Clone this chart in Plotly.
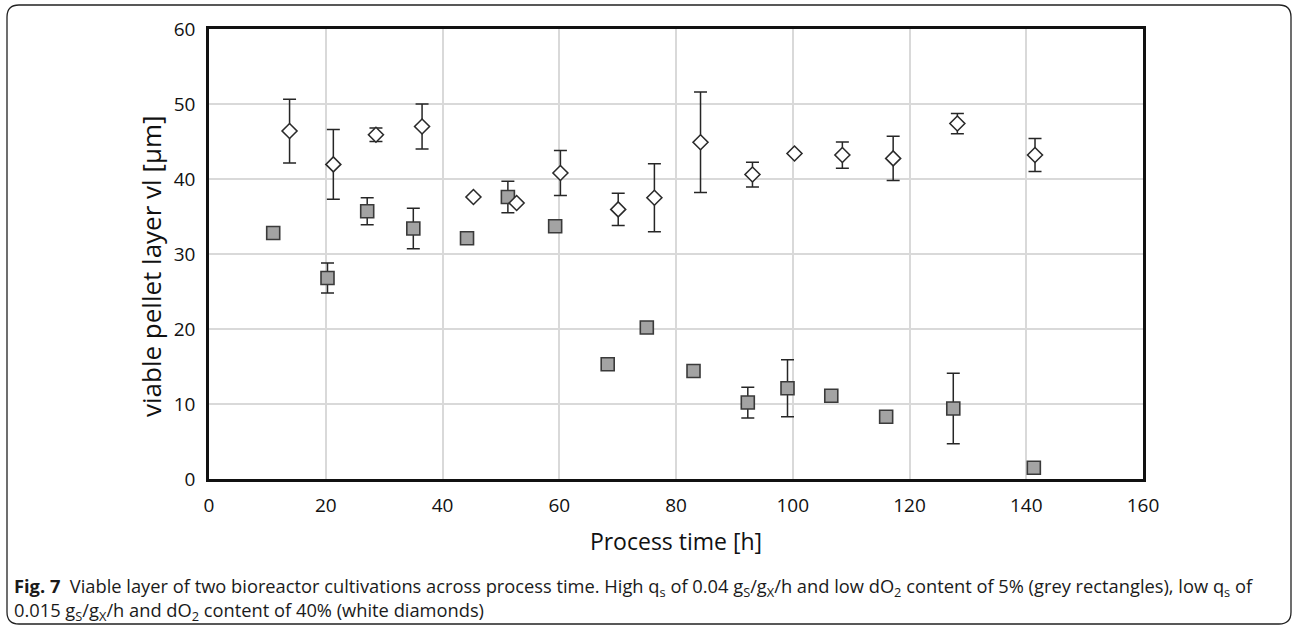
import plotly.graph_objects as go

# Grey squares: high q_s, low dO2 (5 %)
t_high = [11.0, 20.3, 27.1, 35.0, 44.2, 51.2, 59.3, 68.3, 75.0, 83.0, 92.3, 99.1, 106.6, 116.0, 127.5, 141.3]
vl_high = [32.8, 26.8, 35.7, 33.4, 32.1, 37.6, 33.7, 15.3, 20.2, 14.4, 10.2, 12.1, 11.1, 8.3, 9.4, 1.5]
err_high = [None, 2.0, 1.8, 2.7, None, 2.1, None, None, None, None, 2.05, 3.8, None, None, 4.7, None]

# White diamonds: low q_s, dO2 40 %
t_low = [13.8, 21.3, 28.6, 36.5, 45.3, 52.7, 60.2, 70.1, 76.3, 84.2, 93.1, 100.3, 108.5, 117.2, 128.2, 141.5]
vl_low = [46.4, 41.95, 45.9, 47.0, 37.6, 36.8, 40.8, 35.95, 37.5, 44.9, 40.6, 43.4, 43.2, 42.75, 47.4, 43.2]
err_low = [4.25, 4.65, 0.9, 3.0, None, None, 3.0, 2.15, 4.55, 6.7, 1.65, None, 1.75, 2.95, 1.35, 2.2]

x_ticks = [0, 20, 40, 60, 80, 100, 120, 140, 160]
y_ticks = [0, 10, 20, 30, 40, 50, 60]

W, H = 1292, 625
ML, MR, MT, MB = 209, 149, 29, 146
PW, PH = W - ML - MR, H - MT - MB


def px(x):
    return (x - ML) / PW


def py(y):
    return (H - MB - y) / PH


err_style = dict(type="data", symmetric=True, color="#262626", thickness=1.5, width=6.5)

fig = go.Figure()
fig.add_trace(go.Scatter(
    x=t_high, y=vl_high, mode="markers",
    marker=dict(symbol="square", size=13, color="#a3a3a3", line=dict(color="#3a3a3a", width=1.6)),
    error_y=dict(array=err_high, **err_style),
    showlegend=False,
))
fig.add_trace(go.Scatter(
    x=t_low, y=vl_low, mode="markers",
    marker=dict(symbol="diamond", size=11.5, color="white", line=dict(color="#2a2a2a", width=1.6)),
    error_y=dict(array=err_low, **err_style),
    showlegend=False,
))

FONT = "Open Sans, Noto Sans, sans-serif"
axis_font = dict(family=FONT, size=19, color="#111111")
title_font = dict(family=FONT, size=23, color="#111111")
fig.update_xaxes(
    range=[0, 160], tickvals=x_ticks, ticktext=[str(v) for v in x_ticks],
    showgrid=True, gridcolor="#d9d9d9", gridwidth=2,
    showline=True, linecolor="#111111", linewidth=2.5, mirror=True,
    ticks="outside", ticklen=7, tickcolor="rgba(0,0,0,0)",
    tickfont=axis_font, zeroline=False,
    title=dict(text="Process time [h]", font=title_font, standoff=18),
)
fig.update_yaxes(
    range=[0, 60], tickvals=y_ticks, ticktext=[str(v) for v in y_ticks],
    showgrid=True, gridcolor="#d9d9d9", gridwidth=2,
    showline=True, linecolor="#111111", linewidth=2.5, mirror=True,
    ticks="outside", ticklen=7, tickcolor="rgba(0,0,0,0)",
    tickfont=axis_font, zeroline=False,
)

# Vertical axis title
fig.add_annotation(text="viable pellet layer vl [µm]", textangle=-90,
                   xref="paper", yref="paper", x=px(151), y=py(266),
                   xanchor="center", yanchor="middle", showarrow=False,
                   font=dict(family=FONT, size=26, color="#111111"))

# Rounded frame around figure and caption
x0, x1 = px(7), px(1291)
y0, y1 = py(624), py(5)
rx, ry = 12 / PW, 12 / PH
frame = (f"M {x0 + rx},{y1} L {x1 - rx},{y1} Q {x1},{y1} {x1},{y1 - ry} "
         f"L {x1},{y0 + ry} Q {x1},{y0} {x1 - rx},{y0} "
         f"L {x0 + rx},{y0} Q {x0},{y0} {x0},{y0 + ry} "
         f"L {x0},{y1 - ry} Q {x0},{y1} {x0 + rx},{y1} Z")
fig.add_shape(type="path", path=frame, xref="paper", yref="paper",
              line=dict(color="#222222", width=1.3), layer="below")

caption = ("<b>Fig. 7</b>  Viable layer of two bioreactor cultivations across process time. "
           "High q<sub>s</sub> of 0.04 g<sub>S</sub>/g<sub>X</sub>/h and low dO<sub>2</sub> content of 5% "
           "(grey rectangles), low q<sub>s</sub> of<br>"
           "0.015 g<sub>S</sub>/g<sub>X</sub>/h and dO<sub>2</sub> content of 40% (white diamonds)")
fig.add_annotation(text=caption, xref="paper", yref="paper", x=px(12), y=py(571),
                   xanchor="left", yanchor="top", align="left", showarrow=False,
                   font=dict(family=FONT, size=18.3, color="#1a1a1a"))

fig.update_layout(
    width=W, height=H,
    margin=dict(l=ML, r=MR, t=MT, b=MB),
    paper_bgcolor="white", plot_bgcolor="white",
)

fig.write_html("out.html")
